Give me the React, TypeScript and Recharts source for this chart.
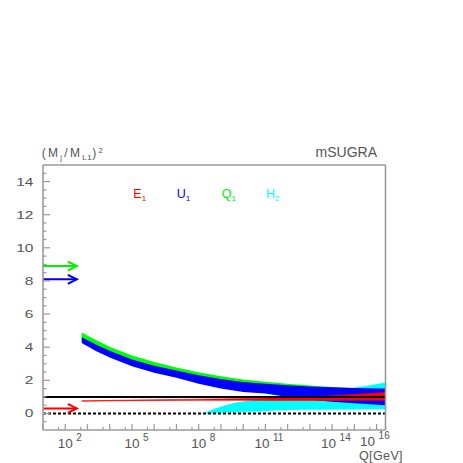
import React from "react";
import { ComposedChart, Area, Line, XAxis, YAxis } from "recharts";

// Running of (M_j / M_L1)^2 vs log10(Q / GeV), mSUGRA bands.

const X_MIN = 1;
const X_MAX = 16.4;
const Y_MIN = -1;
const Y_MAX = 15;

// x = log10(Q/GeV)
const Q1_X = [2.74, 3.4, 4, 5, 6, 7, 8, 9, 10, 11, 12, 13, 14, 15, 16.4];
const Q1_HI = [4.88, 4.42, 4.02, 3.5, 3.1, 2.78, 2.48, 2.24, 2.05, 1.92, 1.8, 1.69, 1.59, 1.52, 1.45];
const Q1_LO = [4.4, 3.9, 3.5, 3.0, 2.65, 2.35, 2.0, 1.7, 1.5, 1.4, 1.2, 1.0, 0.9, 0.8, 0.7];

const U1_X = [2.74, 3.4, 4, 5, 6, 7, 8, 9, 10, 11, 12, 13, 14, 15, 16.4];
const U1_HI = [4.6, 4.15, 3.78, 3.25, 2.88, 2.6, 2.3, 2.08, 1.9, 1.8, 1.7, 1.63, 1.58, 1.54, 1.5];
const U1_LO = [4.25, 3.75, 3.37, 2.85, 2.45, 2.15, 1.8, 1.5, 1.3, 1.2, 1.0, 0.82, 0.71, 0.62, 0.5];

const E1_X = [2.74, 5, 8, 10, 12, 13, 14, 15, 16.4];
const E1_HI = [0.76, 0.81, 0.86, 0.9, 0.95, 1.0, 1.07, 1.15, 1.26];
const E1_LO = [0.74, 0.77, 0.79, 0.79, 0.78, 0.78, 0.78, 0.79, 0.8];

const H2_X = [8.21, 8.7, 9.2, 9.7, 10.6, 11.5, 12.5, 13.5, 14.2, 14.8, 15.5, 16.4];
const H2_HI = [0, 0.28, 0.5, 0.68, 0.82, 0.9, 1.05, 1.25, 1.4, 1.52, 1.65, 1.87];
const H2_LO = [0, 0.03, 0.06, 0.08, 0.12, 0.18, 0.22, 0.23, 0.24, 0.24, 0.25, 0.25];

// flechas (valores de partida)
const ARROW_X = [1, 2.52];
const ARROW_Q1 = 8.9;
const ARROW_U1 = 8.1;
const ARROW_E1 = 0.3;

const REF_ONE = 1;
const REF_ZERO = 0;

const X_MAJOR = [1, 2, 3, 4, 5, 6, 7, 8, 9, 10, 11, 12, 13, 14, 15, 16];
const X_MINOR = [1.699, 2.699, 3.699, 4.699, 5.699, 6.699, 7.699, 8.699, 9.699, 10.699, 11.699, 12.699, 13.699, 14.699, 15.699];
const X_LABELS = [2, 5, 8, 11, 14, 16];
const Y_TICKS = [-0.5, 0, 0.5, 1, 1.5, 2, 2.5, 3, 3.5, 4, 4.5, 5, 5.5, 6, 6.5, 7, 7.5, 8, 8.5, 9, 9.5, 10, 10.5, 11, 11.5, 12, 12.5, 13, 13.5, 14, 14.5];
const Y_LABELS = [0, 2, 4, 6, 8, 10, 12, 14];

const AXIS = "#9a9a9a";
const TXT = "#555";

const band = (xs: number[], lo: number[], hi: number[]) => xs.map((x, i) => ({ x, r: [lo[i], hi[i]] }));
const flat = (xs: number[], y: number) => xs.map((x) => ({ x, y }));

const XTick = (p: any) => {
  const v = p.payload.value;
  const major = X_MAJOR.includes(v);
  const lab = X_LABELS.includes(v);
  const last = v === 16;
  const shift = last ? -9 : v >= 10 ? -3.5 : 0;
  const lift = last ? 2 : 0;
  return (
    <g>
      <line x1={p.x} x2={p.x} y1={p.y} y2={p.y - (major ? 6 : 3)} stroke={AXIS} strokeWidth={1.2} />
      {lab && (
        <>
          <text x={p.x + shift} y={p.y + 18 - lift} fontSize={13.5} textAnchor="middle" fill={TXT}>10</text>
          <text x={p.x + shift + 11} y={p.y + 10.5 - lift} fontSize={10} textAnchor="start" fill={TXT}>{v}</text>
        </>
      )}
    </g>
  );
};

const YTick = (p: any) => {
  const v = p.payload.value;
  const major = Y_LABELS.includes(v);
  return (
    <g>
      <line x1={p.x} x2={p.x + (major ? 7 : 3.5)} y1={p.y} y2={p.y} stroke={AXIS} strokeWidth={1.2} />
      {major && (
        <text transform={`translate(${p.x - 9.5},${p.y + 4}) scale(1.35,1)`} fontSize={11.5} textAnchor="end" fill={TXT}>
          {v}
        </text>
      )}
    </g>
  );
};

const arrowDot = (color: string) => (p: any) =>
  p.index === ARROW_X.length - 1 ? (
    <path key={`a${p.index}`} d={`M${p.cx - 9},${p.cy - 4.5} L${p.cx},${p.cy} L${p.cx - 9},${p.cy + 4.5}`} stroke={color} strokeWidth={2} fill="none" />
  ) : (
    <g key={`a${p.index}`} />
  );

const renderTexts = () => (
  <g fontFamily="'Liberation Sans', Arial, sans-serif">
    <text x={41.7} y={156.7} fontSize={12} letterSpacing={2.3} fill={TXT}>
      (M<tspan dy={3} fontSize={8}>j</tspan>
      <tspan dy={-3}>/M</tspan>
      <tspan dy={3} fontSize={8} letterSpacing={0.5}>L1</tspan>
      <tspan dy={-3}>)</tspan>
      <tspan dy={-4} fontSize={8}>2</tspan>
    </text>
    <text x={377} y={157} fontSize={14} textAnchor="end" fill={TXT}>mSUGRA</text>
    <text x={403} y={460.3} fontSize={12.5} textAnchor="end" fill={TXT} letterSpacing={0.4}>Q[GeV]</text>
    <text x={133.3} y={198.3} fontSize={12.5} fill="#ff0000">E<tspan dy={2.5} fontSize={8}>1</tspan></text>
    <text x={176.7} y={198.3} fontSize={12.5} fill="#0000ff">U<tspan dy={2.5} fontSize={8}>1</tspan></text>
    <text x={221.7} y={198.3} fontSize={12.5} fill="#00ee00">Q<tspan dy={2.5} fontSize={8}>1</tspan></text>
    <text x={266} y={198.3} fontSize={12.5} fill="#00ffff">H<tspan dy={2.5} fontSize={8}>2</tspan></text>
  </g>
);

export default function App() {
  return (
    <div style={{ position: "absolute", left: 0, top: 0, fontFamily: "'Liberation Sans', Arial, sans-serif" }}>
      <ComposedChart width={463} height={463} margin={{ top: 160, right: 72.5, bottom: 0, left: 0 }}>
        <XAxis
          dataKey="x" type="number" domain={[X_MIN, X_MAX]} allowDataOverflow
          ticks={[...X_MAJOR, ...X_MINOR].sort((a, b) => a - b)} interval={0}
          tick={XTick} tickLine={false} tickSize={0} tickMargin={0} height={33}
          axisLine={{ stroke: AXIS, strokeWidth: 1.6 }}
        />
        <XAxis
          xAxisId="top" orientation="top" type="number" domain={[X_MIN, X_MAX]} height={5}
          tick={false} tickLine={false} axisLine={{ stroke: AXIS, strokeWidth: 1.6 }}
        />
        <YAxis
          type="number" domain={[Y_MIN, Y_MAX]} allowDataOverflow width={43}
          ticks={Y_TICKS} interval={0} tick={YTick} tickLine={false} tickSize={0} tickMargin={0}
          axisLine={{ stroke: AXIS, strokeWidth: 1.6 }} label={renderTexts}
        />
        <YAxis
          yAxisId="right" orientation="right" type="number" domain={[Y_MIN, Y_MAX]} width={5}
          tick={false} tickLine={false} axisLine={{ stroke: AXIS, strokeWidth: 1.6 }}
        />

        <Area data={band(H2_X, H2_LO, H2_HI)} dataKey="r" type="linear" stroke="none" fill="#00ffff" fillOpacity={1} isAnimationActive={false} />
        <Area data={band(Q1_X, Q1_LO, Q1_HI)} dataKey="r" type="linear" stroke="none" fill="#00ff00" fillOpacity={1} isAnimationActive={false} />
        <Area data={band(U1_X, U1_LO, U1_HI)} dataKey="r" type="linear" stroke="none" fill="#0000ff" fillOpacity={1} isAnimationActive={false} />
        <Area data={band(E1_X, E1_LO, E1_HI)} dataKey="r" type="linear" stroke="#ff0000" strokeWidth={0.6} fill="#ff0000" fillOpacity={1} isAnimationActive={false} />

        <Line data={flat([X_MIN, X_MAX], REF_ONE)} dataKey="y" stroke="#000" strokeWidth={2} dot={false} isAnimationActive={false} />
        <Line data={flat([X_MIN, X_MAX], REF_ZERO)} dataKey="y" stroke="#000" strokeWidth={2} strokeDasharray="3 2" dot={false} isAnimationActive={false} />

        <Line data={flat(ARROW_X, ARROW_Q1)} dataKey="y" stroke="#00ee00" strokeWidth={2} dot={arrowDot("#00ee00")} isAnimationActive={false} />
        <Line data={flat(ARROW_X, ARROW_U1)} dataKey="y" stroke="#0000ee" strokeWidth={2} dot={arrowDot("#0000ee")} isAnimationActive={false} />
        <Line data={flat(ARROW_X, ARROW_E1)} dataKey="y" stroke="#ff0000" strokeWidth={2} dot={arrowDot("#ff0000")} isAnimationActive={false} />
      </ComposedChart>
    </div>
  );
}
